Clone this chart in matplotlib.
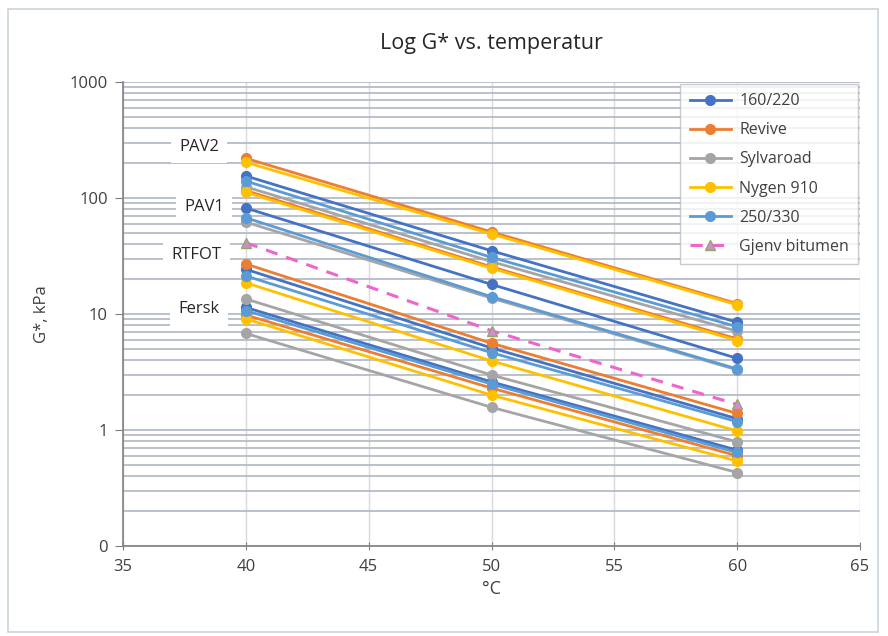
import numpy as np
import matplotlib
matplotlib.use('Agg')
import matplotlib.pyplot as plt
from matplotlib.ticker import FixedLocator, LogLocator, NullFormatter
from matplotlib.patches import Rectangle

plt.rcParams['font.family'] = ['Open Sans', 'DejaVu Sans']

temps = [40, 50, 60]
conditions = ['Fersk', 'RTFOT', 'PAV1', 'PAV2']

# G* (kPa) per binder, one row per ageing condition (Fersk, RTFOT, PAV1, PAV2)
g_160_220 = [[11.4, 2.60, 0.67], [24.3, 5.1, 1.25], [82.0, 18.0, 4.15], [155.0, 35.1, 8.5]]
g_revive = [[9.8, 2.30, 0.60], [27.0, 5.6, 1.39], [116.0, 25.5, 6.1], [220.0, 51.0, 12.3]]
g_sylvaroad = [[6.8, 1.57, 0.43], [13.5, 2.98, 0.79], [62.0, 13.7, 3.3], [125.0, 28.3, 7.1]]
g_nygen = [[9.1, 2.00, 0.54], [18.6, 3.94, 0.98], [112.0, 24.8, 5.9], [203.0, 49.0, 12.0]]
g_250_330 = [[10.7, 2.49, 0.64], [21.3, 4.64, 1.18], [67.6, 14.1, 3.36], [140.0, 30.8, 7.77]]
g_gjenv = [41.2, 7.18, 1.66]

series_names = ['160/220', 'Revive', 'Sylvaroad', 'Nygen 910', '250/330']
series_data = [g_160_220, g_revive, g_sylvaroad, g_nygen, g_250_330]
series_colors = ['#4472C4', '#ED7D31', '#A5A5A5', '#FFC000', '#5B9BD5']

label_texts = ['PAV2', 'PAV1', 'RTFOT', 'Fersk']
label_x = [38.1, 38.3, 38.0, 38.1]
label_y = [275, 84, 32.5, 11.0]

fig = plt.figure(figsize=(8.88, 6.36), dpi=100)
ax = fig.add_axes([0.1385, 0.1415, 0.83, 0.7295])

# outer chart frame
fig.patches.append(Rectangle((0.009, 0.006), 0.98, 0.98, transform=fig.transFigure,
                             fill=False, edgecolor='#C9D3DD', linewidth=1.2))

ax.set_yscale('log')
ax.set_ylim(0.1, 1000)
ax.set_xlim(35, 65)

# grid
ax.yaxis.set_major_locator(FixedLocator([0.1, 1, 10, 100, 1000]))
ax.yaxis.set_minor_locator(LogLocator(base=10, subs=np.arange(2, 10)))
ax.yaxis.set_minor_formatter(NullFormatter())
ax.set_yticklabels(['0', '1', '10', '100', '1000'])
ax.set_xticks(np.arange(35, 66, 5))
ax.grid(True, which='major', axis='y', color='#B4BCC8', linewidth=1.3, zorder=0)
ax.grid(True, which='minor', axis='y', color='#B4BCC8', linewidth=1.3, zorder=0)
ax.grid(True, which='major', axis='x', color='#DADADA', linewidth=1.0, zorder=0)
ax.set_axisbelow(True)

for s in ['top', 'right']:
    ax.spines[s].set_visible(False)
for s in ['left', 'bottom']:
    ax.spines[s].set_color('#7F7F7F')
    ax.spines[s].set_linewidth(1.2)
ax.tick_params(axis='y', which='major', length=6, color='#7F7F7F', labelsize=12,
               labelcolor='#404040', pad=5)
ax.tick_params(axis='x', which='major', length=6, direction='inout', color='#7F7F7F',
               labelsize=12, labelcolor='#404040', pad=6)
ax.tick_params(axis='y', which='minor', length=0)

handles = []
for name, data, col in zip(series_names, series_data, series_colors):
    for i, vals in enumerate(data):
        ln, = ax.plot(temps, vals, color=col, linewidth=2.0, marker='o', markersize=7,
                      markeredgecolor=col, zorder=3)
        if i == 0:
            handles.append(ln)

gj, = ax.plot(temps, g_gjenv, color='#EE66CC', linewidth=2.2, linestyle=(0, (4, 3)),
              marker='^', markersize=7, markerfacecolor='#D987D9', markeredgecolor='#8FA86A',
              zorder=4)
handles.append(gj)

for txt, x, y in zip(label_texts, label_x, label_y):
    ax.text(x, y, txt, ha='center', va='center', fontsize=12, color='#262626', zorder=2,
            bbox=dict(boxstyle='square,pad=0.5', facecolor='white', edgecolor='none'))

leg = ax.legend(handles, series_names + ['Gjenv bitumen'], loc='upper right',
                bbox_to_anchor=(1.0, 1.0), fontsize=11.5, frameon=True, fancybox=False,
                handlelength=2.6, labelspacing=0.82, borderpad=0.6, handletextpad=0.5,
                borderaxespad=0.1)
leg.get_frame().set_edgecolor('#BFBFBF')
leg.get_frame().set_linewidth(1.0)
for t in leg.get_texts():
    t.set_color('#404040')

ax.set_title('Log G* vs. temperatur', fontsize=15.5, color='#262626', pad=24)
ax.set_xlabel('°C', fontsize=13, color='#404040', labelpad=4)
ax.set_ylabel('G*, kPa', fontsize=12, color='#404040', labelpad=14)

fig.savefig('out.png', dpi=100)
